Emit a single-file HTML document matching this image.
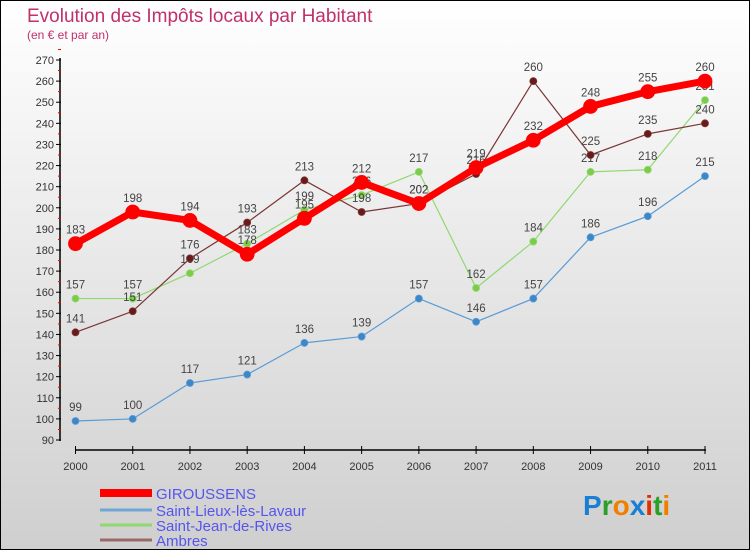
<!DOCTYPE html>
<html><head><meta charset="utf-8"><style>
body{margin:0}
#c{width:750px;height:550px;position:relative;box-sizing:border-box;border:1px solid #000;background:linear-gradient(#ffffff,#cfcfcf);font-family:"Liberation Sans",sans-serif;overflow:hidden}
</style></head><body>
<div id="c">
<svg id="s" width="750" height="550" style="position:absolute;left:-1px;top:-1px">
<text x="27" y="22" font-size="19" fill="#c0306a">Evolution des Impôts locaux par Habitant</text>
<text x="27" y="39" font-size="12" fill="#c0306a">(en € et par an)</text>
</svg>
</div>
<script>
const years=["2000","2001","2002","2003","2004","2005","2006","2007","2008","2009","2010","2011"];
const yTicks=[90,100,110,120,130,140,150,160,170,180,190,200,210,220,230,240,250,260,270];
const giroussens=[183,198,194,178,195,212,202,219,232,248,255,260];
const saintLieux=[99,100,117,121,136,139,157,146,157,186,196,215];
const saintJean=[157,157,169,183,199,206,217,162,184,217,218,251];
const ambres=[141,151,176,193,213,198,202,216,260,225,235,240];
const seriesNames=["GIROUSSENS","Saint-Lieux-lès-Lavaur","Saint-Jean-de-Rives","Ambres"];
const NS="http://www.w3.org/2000/svg";
const svg=document.getElementById('s');
function xs(i){return 75.5+i*(705-75.5)/(years.length-1);}
function ys(v){return 440-(v-90)*(380/180);}
function el(t,a,p){const e=document.createElementNS(NS,t);for(const k in a)e.setAttribute(k,a[k]);(p||svg).appendChild(e);return e;}
// axes
let ya=el('line',{x1:60,y1:58,x2:60,y2:441,stroke:'#000','stroke-width':1.5});


yTicks.forEach(v=>{
 el('line',{x1:56,x2:61,y1:ys(v),y2:ys(v),stroke:'#000'});
 el('line',{x1:58,x2:61,y1:ys(v+5),y2:ys(v+5),stroke:'#e00'});
 const t=el('text',{x:54,y:ys(v)+4,'font-size':11,fill:'#333','text-anchor':'end'});
 t.textContent=v;
 
 
});
let xa=el('line',{x1:75,y1:450,x2:706,y2:450,stroke:'#000','stroke-width':1.5});


years.forEach((y,i)=>{
 el('line',{x1:xs(i),x2:xs(i),y1:446,y2:454,stroke:'#000'});
 const t=el('text',{x:xs(i),y:470,'font-size':11,fill:'#333','text-anchor':'middle'});
 t.textContent=y;
 
 
});
function series(data,color,w,r,dot,name){
 const g=el('g',{});
 
 
 el('polyline',{points:data.map((v,i)=>xs(i)+','+ys(v)).join(' '),fill:'none',stroke:color,'stroke-width':w,'stroke-linejoin':'round'},g);
 data.forEach((v,i)=>{
  const c=el('circle',{cx:xs(i),cy:ys(v),r:r,fill:dot,stroke:color,'stroke-width':0.8},g);
  
  
  const t=el('text',{x:xs(i),y:ys(v)-10,'font-size':11.5,fill:'#444','text-anchor':'middle'},g);
  t.textContent=v;
  
  
 });
}
series(saintLieux,'#5b9bd5',1.2,3.5,'#3b87c8','series-saint-lieux');
series(saintJean,'#90d870',1.2,3.5,'#7ccc4a','series-saint-jean');
series(ambres,'#7a3535',1.2,3.5,'#6a1a1a','series-ambres');
series(giroussens,'#f00',7,7,'#f00','series-giroussens');
// legend
const lc=['#f00','#6fa8d6','#90d870','#9a6a6a'],lw=[8,3,3,3],ly=[493,510,525,540];
seriesNames.forEach((n,i)=>{
 const g=el('g',{});
 
 
 el('line',{x1:100,x2:152,y1:ly[i],y2:ly[i],stroke:lc[i],'stroke-width':lw[i]},g);
 const t=el('text',{x:156,y:ly[i]+6,'font-size':15,fill:'#5555ee'},g);
 t.textContent=n;
});
// logo
const lg=el('text',{x:583,y:515,'font-size':28,'font-weight':'bold'});


[['P','#1a7fd4'],['r','#2aa02a'],['o','#f07f00'],['x','#1a7fd4'],['i','#e03000'],['t','#2aa02a'],['i','#f07f00']].forEach(([c,f])=>{const s=el('tspan',{fill:f},lg);s.textContent=c;});
</script>
</body></html>
